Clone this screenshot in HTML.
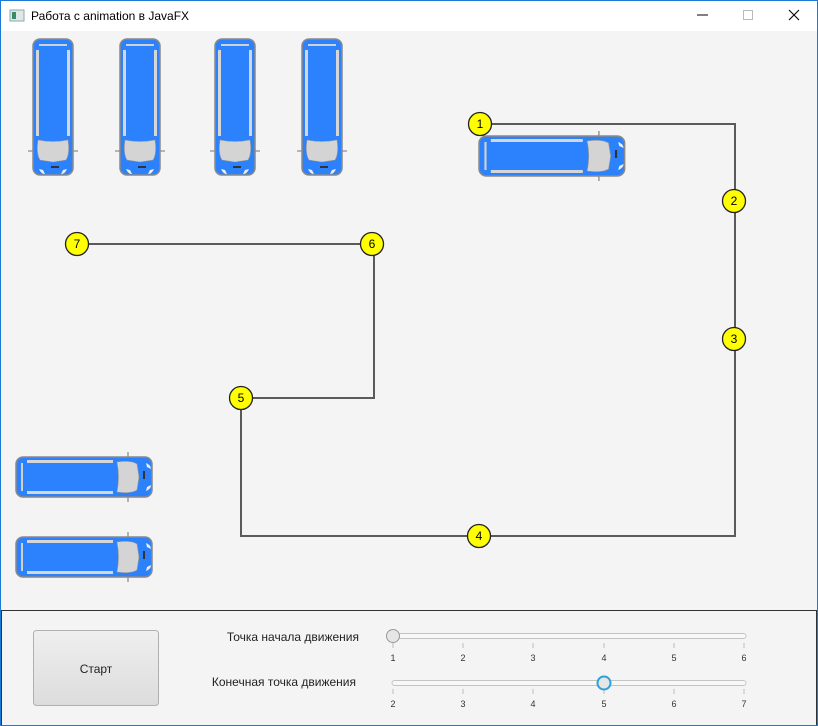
<!DOCTYPE html>
<html><head><meta charset="utf-8"><style>
body{margin:0;width:818px;height:726px;overflow:hidden;background:#f4f4f4;font-family:"Liberation Sans","DejaVu Sans",sans-serif;}
</style></head><body>
<svg width="818" height="726" xmlns="http://www.w3.org/2000/svg" style="position:absolute;left:0;top:0">
<defs>
<g id="hvan">
<rect x="1" y="2" width="136" height="40" rx="7" fill="#2b82fc" stroke="#8a8a8a" stroke-width="1.5"/>
<rect x="12" y="5" width="86" height="3" fill="#d6d6d6"/>
<rect x="12" y="36" width="86" height="3" fill="#d6d6d6"/>
<rect x="6" y="8" width="2" height="28" fill="#d0d0d0"/>
<path d="M102 7 Q116 5 122 9 L124 22 L122 35 Q116 39 102 37 Q105 22 102 7Z" fill="#d4d4d4" stroke="#999" stroke-width="0.6"/>
<rect x="128" y="16" width="2" height="8" fill="#333"/>
<path d="M131 8 Q136 10 136 14 L132 12Z" fill="#eee"/>
<path d="M131 36 Q136 34 136 30 L132 32Z" fill="#eee"/>
<line x1="113" y1="-3" x2="113" y2="3" stroke="#888" stroke-width="1.2"/>
<line x1="113" y1="41" x2="113" y2="47" stroke="#888" stroke-width="1.2"/>
</g>
</defs>
<rect x="0" y="0" width="818" height="726" fill="#f4f4f4"/>
<rect x="0" y="0" width="818" height="31" fill="#fff"/>
<rect x="0.5" y="0.5" width="817" height="725" fill="none" stroke="#1c7ad6" stroke-width="1"/>
<rect x="10" y="10" width="14" height="11" fill="#dfe8e8" stroke="#8aa" stroke-width="1"/>
<rect x="12" y="12" width="4" height="7" fill="#3a8a6a"/>
<text x="31" y="20" font-size="12" fill="#000">Работа с animation в JavaFX</text>
<line x1="697" y1="15" x2="708" y2="15" stroke="#000"/>
<rect x="743.5" y="10.5" width="9" height="9" fill="none" stroke="#bbb"/>
<path d="M789 10 L799 20 M799 10 L789 20" stroke="#000" stroke-width="1.1"/>
<use href="#hvan" transform="translate(75,38) rotate(90)"/>
<use href="#hvan" transform="translate(162,38) rotate(90)"/>
<use href="#hvan" transform="translate(257,38) rotate(90)"/>
<use href="#hvan" transform="translate(344,38) rotate(90)"/>
<use href="#hvan" transform="translate(478,134) scale(1.07,1)"/>
<use href="#hvan" transform="translate(15,455)"/>
<use href="#hvan" transform="translate(15,535)"/>
<polyline points="480,124 735,124 735,536 241,536 241,398 374,398 374,244 77,244" fill="none" stroke="#5a5a5a" stroke-width="2"/>
<g fill="#ffff00" stroke="#222" stroke-width="1.3">
<circle cx="480" cy="124" r="11.5"/><circle cx="734" cy="201" r="11.5"/><circle cx="734" cy="339" r="11.5"/>
<circle cx="479" cy="536" r="11.5"/><circle cx="241" cy="398" r="11.5"/><circle cx="372" cy="244" r="11.5"/><circle cx="77" cy="244" r="11.5"/>
</g>
<g font-size="12" text-anchor="middle" fill="#000">
<text x="480" y="128">1</text><text x="734" y="205">2</text><text x="734" y="343">3</text>
<text x="479" y="540">4</text><text x="241" y="402">5</text><text x="372" y="248">6</text><text x="77" y="248">7</text>
</g>
<line x1="1" y1="610.5" x2="817" y2="610.5" stroke="#333" stroke-width="1"/>
<line x1="816.5" y1="610" x2="816.5" y2="725" stroke="#333"/>
<line x1="1.5" y1="610" x2="1.5" y2="725" stroke="#333"/>
<linearGradient id="bg" x1="0" y1="0" x2="0" y2="1"><stop offset="0" stop-color="#efefef"/><stop offset="1" stop-color="#dcdcdc"/></linearGradient>
<rect x="33.5" y="630.5" width="125" height="75" rx="3" fill="url(#bg)" stroke="#b0b0b0"/>
<text x="96" y="673" font-size="12" text-anchor="middle" fill="#222">Старт</text>
<text x="359" y="641" font-size="12" text-anchor="end" fill="#222">Точка начала движения</text>
<text x="356" y="686" font-size="12" text-anchor="end" fill="#222">Конечная точка движения</text>
<rect x="392" y="633.5" width="354" height="5" rx="2.5" fill="#f8f8f8" stroke="#c4c4c4"/>
<rect x="392" y="680.5" width="354" height="5" rx="2.5" fill="#f8f8f8" stroke="#c4c4c4"/>
<g stroke="#bbb">
<line x1="393" y1="643" x2="393" y2="648"/><line x1="463" y1="643" x2="463" y2="648"/><line x1="533" y1="643" x2="533" y2="648"/><line x1="604" y1="643" x2="604" y2="648"/><line x1="674" y1="643" x2="674" y2="648"/><line x1="744" y1="643" x2="744" y2="648"/>
<line x1="393" y1="689" x2="393" y2="694"/><line x1="463" y1="689" x2="463" y2="694"/><line x1="533" y1="689" x2="533" y2="694"/><line x1="604" y1="689" x2="604" y2="694"/><line x1="674" y1="689" x2="674" y2="694"/><line x1="744" y1="689" x2="744" y2="694"/>
</g>
<g font-size="9" text-anchor="middle" fill="#333">
<text x="393" y="661">1</text><text x="463" y="661">2</text><text x="533" y="661">3</text><text x="604" y="661">4</text><text x="674" y="661">5</text><text x="744" y="661">6</text>
<text x="393" y="707">2</text><text x="463" y="707">3</text><text x="533" y="707">4</text><text x="604" y="707">5</text><text x="674" y="707">6</text><text x="744" y="707">7</text>
</g>
<circle cx="393" cy="636" r="6.5" fill="#e6e6e6" stroke="#999"/>
<circle cx="604" cy="683" r="6.5" fill="#e6e6e6" stroke="#2aa0dc" stroke-width="2"/>
</svg>
</body></html>
